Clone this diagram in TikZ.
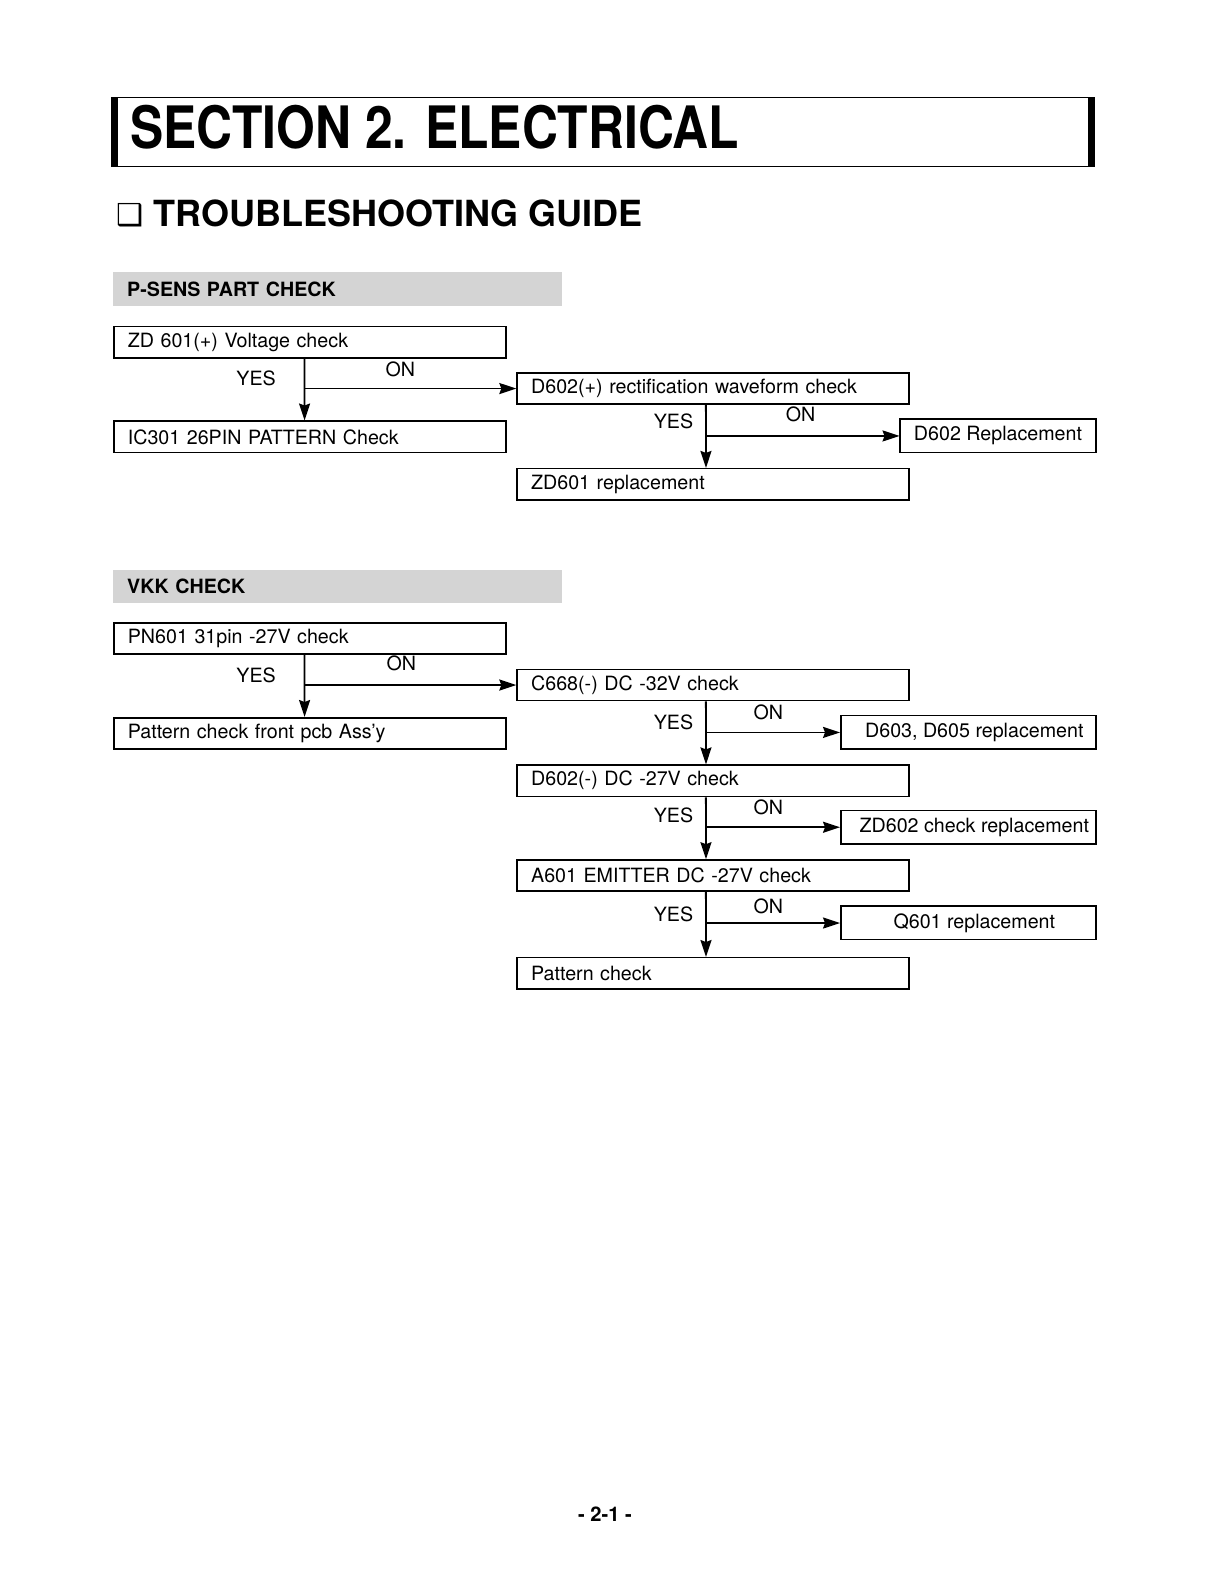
\documentclass[tikz,border=0pt]{standalone}
\usepackage{fontspec}
\setmainfont{TeX Gyre Heros}
\newfontfamily\symfont{DejaVu Sans}
\usetikzlibrary{arrows.meta}
\definecolor{bargrey}{gray}{0.83}
\tikzset{
  box/.style={draw, line width=1.6pt, anchor=north west, minimum height=31pt,
    inner xsep=14pt, inner ysep=0pt, text width=361pt, align=left,
    font=\fontsize{19.5}{22}\selectfont},
  fixbox/.style={draw, line width=1.6pt, anchor=north west, minimum height=33pt,
    inner sep=0pt, align=center, font=\fontsize{19.5}{22}\selectfont},
  secbar/.style={fill=bargrey, anchor=north west, minimum height=33pt,
    inner xsep=14pt, inner ysep=0pt, text width=417pt, align=left,
    font=\fontsize{19.5}{22}\selectfont\bfseries},
  lbl/.style={font=\fontsize{19.5}{22}\selectfont},
  arr/.style={line width=1.8pt, -{Stealth[length=17pt,width=11pt,inset=2pt]}}
}
\begin{document}
\begin{tikzpicture}[x=1pt,y=-1pt,scale=1.0083,transform shape]
  \useasboundingbox (0,0) rectangle (1199,1570);
  % title bar
  \draw[line width=1pt] (110,97) -- (1086,97);
  \draw[line width=1pt] (110,165) -- (1086,165);
  \fill (110,97) rectangle (117,165);
  \fill (1079,97) rectangle (1086,165);
  \node[anchor=west, inner sep=0pt, font=\fontsize{58}{60}\selectfont\bfseries] (title) at (129,126)
    {\scalebox{0.851}[1]{SECTION 2. ELECTRICAL}};
  \node[inner sep=0pt, font=\symfont\fontsize{30}{30}\selectfont] (sq) at (129,213) {❑};
  \node[anchor=west, inner sep=0pt, font=\fontsize{35.7}{38}\selectfont\bfseries] (guide) at (152,212)
    {TROUBLESHOOTING GUIDE};

  % P-SENS part
  \node[secbar] (psens) at (112,270) {P-SENS PART CHECK};
  \node[box] (zdv) at (112,323) {ZD 601(+) Voltage check};
  \node[box] (icpat) at (112,417) {IC301 26PIN PATTERN Check};
  \node[box] (rect) at (512,369) {D602(+) rectification waveform check};
  \node[fixbox, minimum width=194pt] (dre) at (892,415) {D602 Replacement};
  \node[box] (zdre) at (512,464) {ZD601 replacement};

  \draw[arr] (zdv.south west) ++(190,0) coordinate (j1) -- (j1 |- icpat.north);
  \draw[arr] (j1 |- rect.west) -- (rect.west);
  \node[lbl] (y1) at (254,375) {YES};
  \node[lbl] (o1) at (397,366) {ON};

  \draw[arr] (rect.south west) ++(188,0) coordinate (j2) -- (j2 |- zdre.north);
  \draw[arr] (j2 |- dre.west) -- (dre.west);
  \node[lbl] (y2) at (668,418) {YES};
  \node[lbl] (o2) at (794,411) {ON};

  % VKK part
  \node[secbar] (vkk) at (112,565) {VKK CHECK};
  \node[box] (pn) at (112,617) {PN601 31pin -27V check};
  \node[box] (front) at (112,711) {Pattern check front pcb Ass’y};
  \node[box] (c668) at (512,663) {C668(-) DC -32V check};
  \node[fixbox, minimum width=253pt] (d603) at (833,709) {\hspace*{12pt}D603, D605 replacement};
  \node[box] (d602) at (512,758) {D602(-) DC -27V check};
  \node[fixbox, minimum width=253pt] (zd602) at (833,803) {\hspace*{12pt}ZD602 check replacement};
  \node[box] (a601) at (512,852) {A601 EMITTER DC -27V check};
  \node[fixbox, minimum width=253pt] (q601) at (833,898) {\hspace*{12pt}Q601 replacement};
  \node[box] (pat) at (512,949) {Pattern check};

  \draw[arr] (pn.south west) ++(190,0) coordinate (j3) -- (j3 |- front.north);
  \draw[arr] (j3 |- c668.west) -- (c668.west);
  \node[lbl] (y3) at (254,670) {YES};
  \node[lbl] (o3) at (398,658) {ON};

  \draw[arr] (c668.south west) ++(188,0) coordinate (j4) -- (j4 |- d602.north);
  \draw[arr] (j4 |- d603.west) -- (d603.west);
  \node[lbl] (y4) at (668,716) {YES};
  \node[lbl] (o4) at (762,706) {ON};

  \draw[arr] (d602.south west) ++(188,0) coordinate (j5) -- (j5 |- a601.north);
  \draw[arr] (j5 |- zd602.west) -- (zd602.west);
  \node[lbl] (y5) at (668,809) {YES};
  \node[lbl] (o5) at (762,801) {ON};

  \draw[arr] (a601.south west) ++(188,0) coordinate (j6) -- (j6 |- pat.north);
  \draw[arr] (j6 |- q601.west) -- (q601.west);
  \node[lbl] (y6) at (668,907) {YES};
  \node[lbl] (o6) at (762,899) {ON};

  % page number
  \node[font=\fontsize{20}{22}\selectfont\bfseries] (page) at (600,1502) {- 2-1 -};
\end{tikzpicture}
\end{document}
